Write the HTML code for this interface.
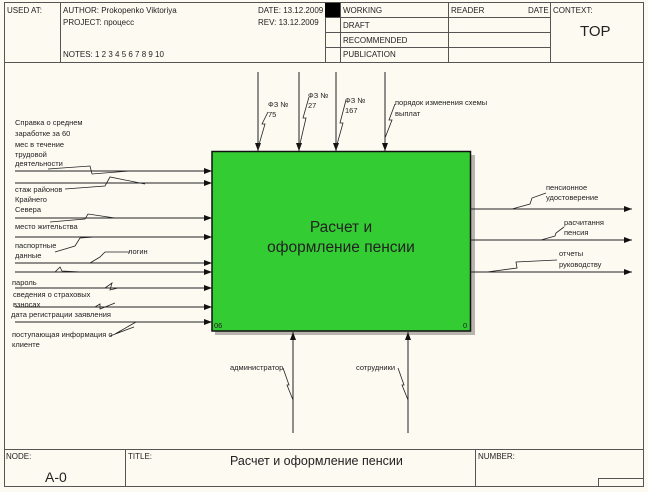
<!DOCTYPE html>
<html><head><meta charset="utf-8"><style>
html,body{margin:0;padding:0;background:#fff}
svg{display:block}
text{font-family:"Liberation Sans",sans-serif;fill:#222}
</style></head><body>
<svg width="648" height="492" viewBox="0 0 648 492" xmlns="http://www.w3.org/2000/svg">
<defs><marker id="a" markerWidth="8" markerHeight="6" refX="8" refY="3" orient="auto" markerUnits="userSpaceOnUse"><path d="M0,0L8,3L0,6z" fill="#111"/></marker></defs>
<rect x="0" y="0" width="648" height="492" fill="#fdfaf2"/>
<rect x="4.5" y="2.5" width="639" height="484" fill="none" stroke="#555"/>
<g stroke="#555" fill="none">
<line x1="4" y1="62.5" x2="644" y2="62.5"/>
<line x1="60.5" y1="2" x2="60.5" y2="62"/>
<line x1="325.5" y1="2" x2="325.5" y2="62"/>
<line x1="340.5" y1="2" x2="340.5" y2="62"/>
<line x1="448.5" y1="2" x2="448.5" y2="62"/>
<line x1="550.5" y1="2" x2="550.5" y2="62"/>
<line x1="325" y1="17.5" x2="550" y2="17.5"/>
<line x1="325" y1="32.5" x2="550" y2="32.5"/>
<line x1="325" y1="47.5" x2="550" y2="47.5"/>
</g>
<rect x="325" y="3" width="15" height="14" fill="#000"/>
<g font-size="8">
<text x="7" y="13">USED AT:</text>
<text x="63" y="13">AUTHOR:  Prokopenko Viktoriya</text>
<text x="63" y="25">PROJECT:  процесс</text>
<text x="63" y="57">NOTES:  1  2  3  4  5  6  7  8  9  10</text>
<text x="258" y="13">DATE: 13.12.2009</text>
<text x="258" y="25">REV:  13.12.2009</text>
<text x="343" y="13">WORKING</text>
<text x="343" y="28">DRAFT</text>
<text x="343" y="43">RECOMMENDED</text>
<text x="343" y="57">PUBLICATION</text>
<text x="451" y="13">READER</text>
<text x="528" y="13">DATE</text>
<text x="553" y="13">CONTEXT:</text>
</g>
<text x="580" y="36" font-size="15">TOP</text>
<g stroke="#555" fill="none">
<line x1="4" y1="449.5" x2="644" y2="449.5"/>
<line x1="125.5" y1="449" x2="125.5" y2="487"/>
<line x1="475.5" y1="449" x2="475.5" y2="487"/>
<path d="M598.5,487V478.5H644"/>
</g>
<g font-size="8">
<text x="6" y="459">NODE:</text>
<text x="128" y="459">TITLE:</text>
<text x="478" y="459">NUMBER:</text>
</g>
<text x="45" y="482" font-size="14">A-0</text>
<text x="230" y="465" font-size="12.5">Расчет и оформление пенсии</text>
<rect x="215" y="155" width="260" height="180" fill="#b9b4ad"/>
<rect x="212" y="151.5" width="258.5" height="179.5" fill="#33cc33" stroke="#111" stroke-width="1.5"/>
<text x="341" y="232" font-size="15.5" text-anchor="middle" fill="#111">Расчет и</text>
<text x="341" y="252" font-size="15.5" text-anchor="middle" fill="#111">оформление пенсии</text>
<text x="214" y="328" font-size="7.5" fill="#116611">06</text>
<text x="463" y="328" font-size="7.5" fill="#116611">0</text>
<g stroke="#222" stroke-width="1" fill="none" marker-end="url(#a)">
<line x1="15" y1="171" x2="212" y2="171"/>
<line x1="15" y1="183" x2="212" y2="183"/>
<line x1="15" y1="218" x2="212" y2="218"/>
<line x1="15" y1="237" x2="212" y2="237"/>
<line x1="15" y1="263" x2="212" y2="263"/>
<line x1="15" y1="272" x2="212" y2="272"/>
<line x1="15" y1="288" x2="212" y2="288"/>
<line x1="15" y1="307" x2="212" y2="307"/>
<line x1="15" y1="322" x2="212" y2="322"/>
<line x1="258" y1="72" x2="258" y2="151"/>
<line x1="299" y1="72" x2="299" y2="151"/>
<line x1="336" y1="72" x2="336" y2="151"/>
<line x1="385" y1="72" x2="385" y2="151"/>
<line x1="470" y1="209" x2="632" y2="209"/>
<line x1="470" y1="240" x2="632" y2="240"/>
<line x1="470" y1="272" x2="632" y2="272"/>
<line x1="293" y1="433" x2="293" y2="332"/>
<line x1="408" y1="433" x2="408" y2="332"/>
</g>
<g stroke="#222" stroke-width="0.8" fill="none">
<path d="M48,169L90,166L92,174L130,171"/>
<path d="M65,189L105,186L110,177L145,184"/>
<path d="M50,222L85,219L88,214L115,218"/>
<path d="M55,252L75,246L80,238L95,237"/>
<path d="M90,263L100,257L105,252L130,252"/>
<path d="M55,272L60,267L62,271L82,272"/>
<path d="M105,288L112,283L110,290L118,288"/>
<path d="M95,307L100,304L100,309L115,303"/>
<path d="M110,336L134,327L115,334L136,322"/>
<path d="M258,148L265,124L262,124L268,112"/>
<path d="M299,148L306,118L303,118L309,97"/>
<path d="M336,148L343,123L340,123L346,100"/>
<path d="M385,138L392,120L389,120L395,104"/>
<path d="M512,209L530,204L532,198L546,193"/>
<path d="M541,240L555,236L556,233L564,227"/>
<path d="M487,272L517,268L516,262L557,260"/>
<path d="M293,400L287,385L289,385L283,368"/>
<path d="M408,400L402,385L404,385L398,368"/>
</g>
<g font-size="7.5">
<text x="15" y="125">Справка о среднем</text>
<text x="15" y="136">заработке  за 60</text>
<text x="15" y="147">мес в течение</text>
<text x="15" y="157">трудовой</text>
<text x="15" y="166">деятельности</text>
<text x="15" y="192">стаж районов</text>
<text x="15" y="202">Крайнего</text>
<text x="15" y="212">Севера</text>
<text x="15" y="229">место жительства</text>
<text x="15" y="248">паспортные</text>
<text x="15" y="258">данные</text>
<text x="128" y="254">логин</text>
<text x="12" y="285">пароль</text>
<text x="13" y="297">сведения о страховых</text>
<text x="13" y="307">взносах</text>
<text x="11" y="317">дата регистрации заявления</text>
<text x="12" y="337">поступающая информация о</text>
<text x="12" y="347">клиенте</text>
<text x="268" y="107">ФЗ №</text>
<text x="268" y="117">75</text>
<text x="308" y="98">ФЗ №</text>
<text x="308" y="108">27</text>
<text x="345" y="103">ФЗ №</text>
<text x="345" y="113">167</text>
<text x="395" y="105">порядок изменения схемы</text>
<text x="395" y="116">выплат</text>
<text x="546" y="190">пенсионное</text>
<text x="546" y="200">удостоверение</text>
<text x="564" y="225">расчитання</text>
<text x="564" y="235">пенсия</text>
<text x="559" y="256">отчеты</text>
<text x="559" y="267">руководству</text>
<text x="230" y="370">администратор</text>
<text x="356" y="370">сотрудники</text>
</g>
</svg>
</body></html>
